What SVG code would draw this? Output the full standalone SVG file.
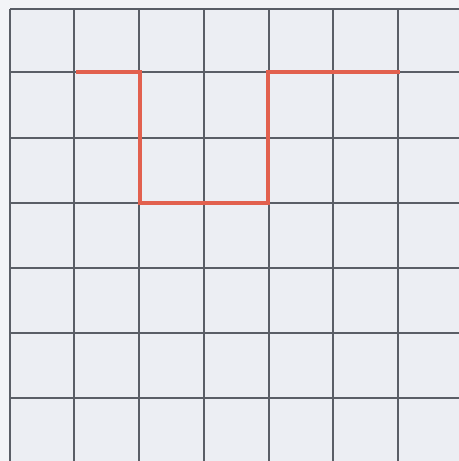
<svg xmlns="http://www.w3.org/2000/svg" width="459" height="461" viewBox="0 0 459 461">
<style>
.g{stroke:#5a5e66;stroke-width:2;fill:none}
.r{stroke:#e2604e;stroke-width:4;fill:none;stroke-linejoin:miter}
</style>
<rect width="459" height="461" fill="#eceef3"/>
<rect x="0" y="0" width="459" height="9" fill="#f3f4f7"/>
<rect x="0" y="0" width="10" height="461" fill="#f3f4f7"/>
<g id="grid" class="g">
<path d="M10 9H459M10 72H459M10 138H459M10 203H459M10 268H459M10 333H459M10 398H459"/>
<path d="M10 9V461M74 9V461M139 9V461M204 9V461M269 9V461M333 9V461M398 9V461"/>
</g>
<g id="connectors">
<path class="r" d="M76 72H140V203H268V72H400"/>
</g>
</svg>
